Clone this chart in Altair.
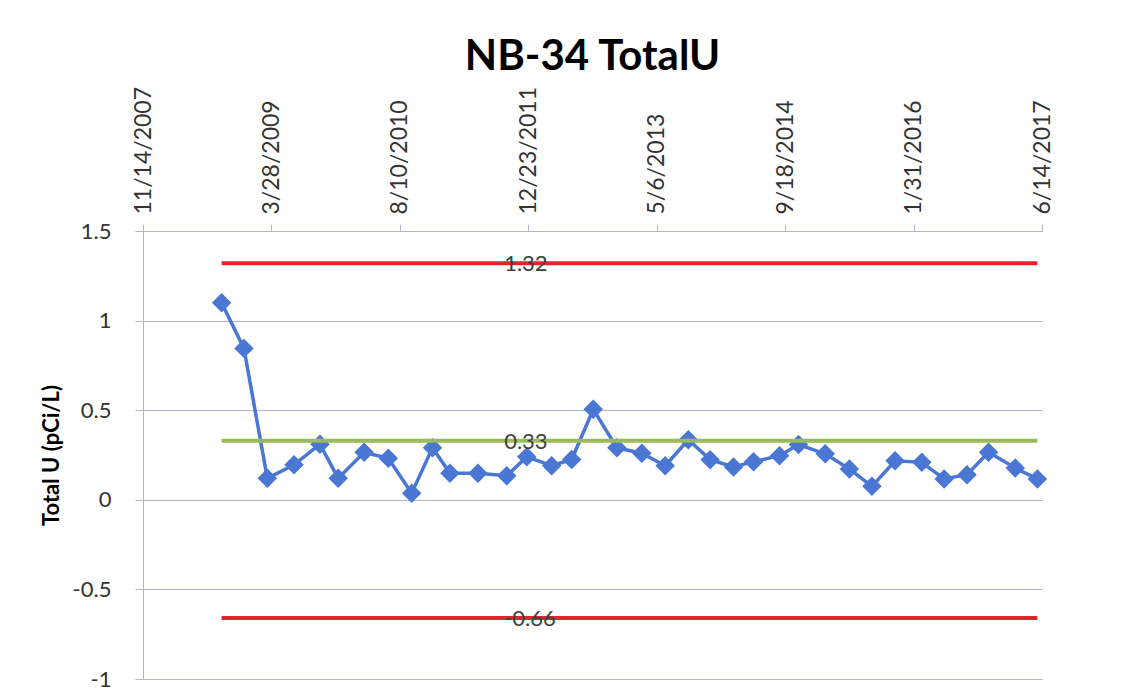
import altair as alt
import pandas as pd

# sample dates and Total U values (pCi/L)
dates = [
    "2008-09-15", "2008-12-11", "2009-03-12", "2009-06-24", "2009-10-03", "2009-12-13",
    "2010-03-24", "2010-06-26", "2010-09-25", "2010-12-15", "2011-02-21", "2011-06-10",
    "2011-09-30", "2011-12-17", "2012-03-23", "2012-06-09", "2012-09-01", "2012-12-02",
    "2013-03-09", "2013-06-08", "2013-09-06", "2013-11-30", "2014-03-01", "2014-05-18",
    "2014-08-27", "2014-11-09", "2015-02-21", "2015-05-26", "2015-08-22", "2015-11-20",
    "2016-03-03", "2016-05-29", "2016-08-26", "2016-11-18", "2017-03-02", "2017-05-27",
]
values = [
    1.10, 0.845, 0.12, 0.195, 0.31, 0.12,
    0.265, 0.232, 0.037, 0.29, 0.148, 0.148,
    0.134, 0.24, 0.19, 0.225, 0.505, 0.29,
    0.26, 0.19, 0.335, 0.224, 0.183, 0.213,
    0.246, 0.308, 0.257, 0.172, 0.075, 0.218,
    0.209, 0.116, 0.14, 0.265, 0.177, 0.116,
]

# control limits
limit_names = ["UCL", "Mean", "LCL"]
limit_values = [1.32, 0.33, -0.66]
limit_labels = ["1.32", "0.33", "-0.66"]
limit_colors = ["#e0262b", "#9bbb59", "#e0262b"]
label_date = "2011-09-20"

# axis ticks
tick_dates = [(2007, 11, 14), (2009, 3, 28), (2010, 8, 10), (2011, 12, 23),
              (2013, 5, 6), (2014, 9, 18), (2016, 1, 31), (2017, 6, 14)]
y_ticks = [-1, -0.5, 0, 0.5, 1, 1.5]

FONT = "Lato"
GRID = "#b3b3cf"
BLUE = "#4a76d4"

df = pd.DataFrame({"date": dates, "value": values})
limits = pd.DataFrame({
    "name": limit_names,
    "value": limit_values,
    "label": limit_labels,
    "start": [dates[0]] * 3,
    "end": [dates[-1]] * 3,
    "ldate": [label_date] * 3,
})

tick_dt = [alt.DateTime(year=y, month=m, date=d, utc=True) for (y, m, d) in tick_dates]

x_scale = alt.Scale(type="utc", domain=[tick_dt[0], tick_dt[-1]])
y_scale = alt.Scale(domain=[-1, 1.5], nice=False, zero=False)


def x_axis():
    return alt.Axis(
        orient="top", values=tick_dt,
        labelExpr="utcFormat(datum.value, '%-m/%-d/%Y')",
        labelAngle=-90, labelAlign="left", labelBaseline="middle",
        labelFont=FONT, labelFontSize=23, labelColor="#333333", labelPadding=10,
        tickSize=7, tickColor=GRID, domainColor=GRID, grid=False, title=None,
        labelOverlap=False,
    )


def y_axis():
    return alt.Axis(
        values=y_ticks, labelExpr="'' + datum.value",
        labelFont=FONT, labelFontSize=22, labelColor="#333333", labelPadding=24,
        tickSize=8, tickColor=GRID, domainColor=GRID, gridColor=GRID,
        title="Total U (pCi/L)", titleFont=FONT, titleFontSize=22, titleFontWeight="bold",
        titleColor="#000000", titlePadding=9,
    )


base = alt.Chart(df)

line = base.mark_line(
    color=BLUE, strokeWidth=3.5,
    point=alt.OverlayMarkDef(shape="diamond", size=380, filled=True, color=BLUE, opacity=1),
).encode(
    x=alt.X("date:T", scale=x_scale, axis=x_axis()),
    y=alt.Y("value:Q", scale=y_scale, axis=y_axis()),
)

rules = alt.Chart(limits).mark_rule(strokeWidth=4).encode(
    x=alt.X("start:T", scale=x_scale, axis=x_axis()),
    x2="end:T",
    y=alt.Y("value:Q", scale=y_scale, axis=y_axis()),
    color=alt.Color("name:N", scale=alt.Scale(domain=limit_names, range=limit_colors), legend=None),
)

texts = alt.Chart(limits).mark_text(
    align="left", baseline="middle", font=FONT, fontSize=22, color="#404040", dy=1,
).encode(
    x=alt.X("ldate:T", scale=x_scale, axis=x_axis()),
    y=alt.Y("value:Q", scale=y_scale, axis=y_axis()),
    text="label:N",
)

chart = alt.layer(line, rules, texts).properties(
    width=899, height=448,
    autosize=alt.AutoSizeParams(type="none"),
    padding={"left": 135, "top": 223, "right": 60, "bottom": 19},
    title=alt.TitleParams("NB-34 TotalU", font=FONT, fontSize=42, fontWeight="bold",
                          color="#000000", anchor="middle", offset=7),
).configure(background="white", view=alt.ViewConfig(stroke=None))

chart.save("out.html", embed_options={"renderer": "svg", "actions": False})
